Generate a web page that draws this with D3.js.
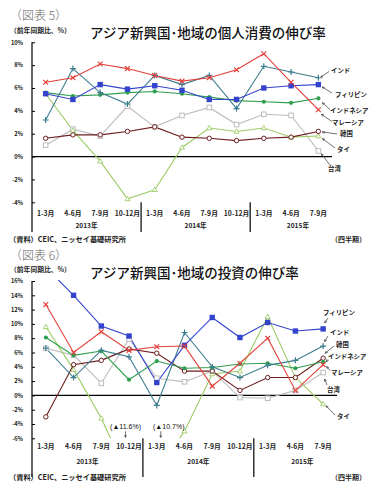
<!DOCTYPE html>
<html><head><meta charset="utf-8">
<script src="https://cdn.jsdelivr.net/npm/d3@7"></script>
<style>
html,body{margin:0;padding:0;background:#fff;}
svg{display:block;font-family:"Noto Sans CJK JP","Noto Sans",sans-serif;}
</style></head><body>
<svg id="c" width="381" height="498"></svg>
<script>
// ---------- data ----------
const categories = ["1-3月","4-6月","7-9月","10-12月","1-3月","4-6月","7-9月","10-12月","1-3月","4-6月","7-9月"];
const yearLabels = ["2013年","2014年","2015年"];
const yearSpans = [4,4,3];
const seriesNames = ["インド","フィリピン","インドネシア","マレーシア","韓国","タイ","台湾"];

// chart 5 : private consumption growth (% y/y)
const consTicks = [10,8,6,4,2,0,-2,-4];
const consIndia       = [3.2,7.7,5.6,4.6,7.1,6.3,7.1,4.2,7.9,7.4,6.9];
const consPhilippines = [5.5,5.0,6.3,5.9,6.2,5.8,5.0,5.0,6.0,6.2,6.3];
const consIndonesia   = [5.6,5.3,5.4,5.6,5.7,5.5,5.2,4.9,4.8,4.7,5.1];
const consMalaysia    = [6.5,6.9,8.1,7.7,7.1,6.6,6.9,7.6,9.0,6.5,4.1];
const consKorea       = [1.6,1.9,1.9,2.2,2.6,1.7,1.6,1.4,1.6,1.7,2.2];
const consThailand    = [5.5,2.3,-0.4,-3.7,-2.9,0.8,2.5,2.2,2.5,1.7,1.8];
const consTaiwan      = [1.0,2.4,1.8,4.4,2.6,3.6,4.3,2.8,3.7,3.6,0.5];

// chart 6 : investment growth (% y/y)
const invTicks = [16,14,12,10,8,6,4,2,0,-2,-4,-6];
const invIndia       = [6.6,2.5,6.3,5.4,-1.4,8.8,4.0,2.5,4.2,4.9,6.9];
const invPhilippines = [17.9,14.0,9.7,8.3,1.8,7.0,10.9,8.1,10.2,9.0,9.3];
const invIndonesia   = [8.1,5.6,6.2,2.2,4.8,3.8,3.9,4.4,4.5,3.8,4.7];
const invMalaysia    = [12.7,6.0,8.9,6.3,6.8,6.9,1.3,4.5,8.0,0.7,4.3];
const invKorea       = [-3.0,4.3,4.9,6.5,5.9,3.4,3.4,0.7,2.5,2.5,5.2];
const invThailand    = [9.6,3.6,-3.2,-11.6,-10.7,-5.0,3.0,3.4,11.0,2.5,-1.2];
const invTaiwan      = [6.6,5.6,1.7,7.9,2.4,1.9,3.4,-0.3,-0.4,0.7,3.2];
const invNotes = [{i:3, text:"(▲11.6%)"},{i:4, text:"(▲10.7%)"}];

// ---------- styles ----------
const styles = {
  "インド":      {color:"#3b7d8e", shape:"plus"},
  "フィリピン":  {color:"#3443cc", shape:"square"},
  "インドネシア":{color:"#2f9e4e", shape:"dot"},
  "マレーシア":  {color:"#e3413b", shape:"cross"},
  "韓国":        {color:"#6e1c1c", shape:"circle"},
  "タイ":        {color:"#9dcc66", shape:"triangle"},
  "台湾":        {color:"#bdbdbd", shape:"osquare"}
};
const drawOrder = ["台湾","タイ","韓国","インドネシア","インド","フィリピン","マレーシア"];

const svg = d3.select("#c");
const defs = svg.append("defs");
defs.append("marker").attr("id","arr").attr("viewBox","0 0 6 6").attr("refX",5.5).attr("refY",3)
  .attr("markerWidth",4).attr("markerHeight",4).attr("orient","auto")
  .append("path").attr("d","M0,0.5L6,3L0,5.5").attr("fill","none").attr("stroke","#333").attr("stroke-width",1.2);

function drawMarker(g, shape, color, px, py){
  const s = 2.4;
  if(shape==="square") g.append("rect").attr("x",px-2.7).attr("y",py-2.7).attr("width",5.4).attr("height",5.4).attr("fill",color);
  else if(shape==="osquare") g.append("rect").attr("x",px-2.3).attr("y",py-2.3).attr("width",4.6).attr("height",4.6).attr("fill","#fff").attr("stroke",color).attr("stroke-width",1);
  else if(shape==="dot") g.append("circle").attr("cx",px).attr("cy",py).attr("r",2.1).attr("fill",color);
  else if(shape==="circle") g.append("circle").attr("cx",px).attr("cy",py).attr("r",2.2).attr("fill","#fff").attr("stroke",color).attr("stroke-width",1);
  else if(shape==="triangle") g.append("path").attr("d",`M${px},${py-2.6}L${px+2.5},${py+1.8}L${px-2.5},${py+1.8}Z`).attr("fill","#fff").attr("stroke",color).attr("stroke-width",0.9);
  else if(shape==="plus") g.append("path").attr("d",`M${px-3},${py}H${px+3}M${px},${py-3}V${py+3}`).attr("stroke",color).attr("stroke-width",1.2);
  else if(shape==="cross") g.append("path").attr("d",`M${px-s},${py-s}L${px+s},${py+s}M${px-s},${py+s}L${px+s},${py-s}`).attr("stroke",color).attr("stroke-width",1.2);
}

function drawChart(o){
  const g = svg.append("g");
  const x = d3.scaleBand().domain(d3.range(categories.length)).range([o.x0,o.x1]);
  const y = d3.scaleLinear().domain([o.ticks[o.ticks.length-1], o.ticks[0]]).range([o.yBottom,o.yTop]);
  const cx = i => x(i) + x.bandwidth()/2;

  // headers
  g.append("text").attr("x",10).attr("y",o.figY).attr("font-size",12).attr("fill","#666")
    .attr("font-weight",300).text(o.fig);
  g.append("text").attr("x",10).attr("y",o.unitY).attr("font-size",6.8).attr("fill","#222")
    .attr("font-weight","bold").text("（前年同期比、%）");
  g.append("text").attr("x",90).attr("y",o.titleY).attr("font-size",13.5).attr("fill","#111")
    .attr("font-weight",500).text(o.title);

  // y axis
  const ax = d3.axisLeft(y).tickValues(o.ticks).tickSize(-3).tickPadding(9).tickFormat(d => d + "%");
  const axg = g.append("g").attr("transform",`translate(${o.x0},0)`).call(ax);
  axg.select(".domain").remove();
  axg.selectAll(".tick line").attr("stroke","#000");
  axg.selectAll(".tick text").attr("font-size",5.6).attr("font-weight","bold").attr("fill","#222")
    .attr("font-family","'Noto Sans CJK JP',sans-serif");
  g.append("line").attr("x1",o.x0).attr("x2",o.x0).attr("y1",o.yTop).attr("y2",o.axisBottom).attr("stroke","#000").attr("stroke-width",1.2);
  g.append("line").attr("x1",o.x0).attr("x2",o.x1).attr("y1",y(0)).attr("y2",y(0)).attr("stroke","#000").attr("stroke-width",1.2);

  // category / year labels and dividers
  g.selectAll(".cat").data(categories).join("text")
    .attr("x",(d,i)=>cx(i)).attr("y",o.catY).attr("text-anchor","middle")
    .attr("font-size",6.8).attr("font-weight","bold").attr("fill","#222").text(d=>d);
  let start = 0;
  const yearLabelWidths = [4,4,3.5];
  yearLabels.forEach((lab,k)=>{
    const xs = x(start);
    g.append("text").attr("x", xs + x.step()*yearLabelWidths[k]/2).attr("y",o.yearY).attr("text-anchor","middle")
      .attr("font-size",6.6).attr("font-weight","bold").attr("fill","#222").text(lab);
    if(k>0) g.append("line").attr("x1",xs).attr("x2",xs).attr("y1",o.yBottom).attr("y2",o.axisBottom).attr("stroke","#000").attr("stroke-width",1.2);
    start += yearSpans[k];
  });
  g.append("text").attr("x",9).attr("y",o.srcY).attr("font-size",7.2).attr("font-weight","bold").attr("fill","#222").text("（資料）CEIC、ニッセイ基礎研究所");
  g.append("text").attr("x",366).attr("y",o.srcY).attr("text-anchor","end").attr("font-size",7).attr("font-weight","bold").attr("fill","#222").text("（四半期）");

  // clip
  const cid = "clip" + o.id;
  defs.append("clipPath").attr("id",cid).append("rect")
    .attr("x",o.x0).attr("y",o.yTop-1).attr("width",o.x1-o.x0+10).attr("height",o.yBottom-o.yTop+o.clipPad);
  const pg = g.append("g").attr("clip-path",`url(#${cid})`);
  const line = d3.line().x((d,i)=>cx(i)).y(d=>y(d));
  drawOrder.forEach(name=>{
    const st = styles[name], vals = o.series[name];
    pg.append("path").attr("d",line(vals)).attr("fill","none").attr("stroke",st.color).attr("stroke-width",1.1);
  });
  drawOrder.forEach(name=>{
    const st = styles[name], vals = o.series[name];
    vals.forEach((v,i)=>drawMarker(pg, st.shape, st.color, cx(i), y(v)));
  });

  // series labels with leaders
  const last = categories.length-1;
  o.labels.forEach(l=>{
    const v = o.series[l.name][last];
    const px = cx(last), py = y(v);
    g.append("line").attr("x1",l.lx).attr("y1",l.ly).attr("x2",px+l.tx).attr("y2",py+l.ty)
      .attr("stroke","#333").attr("stroke-width",0.7).attr("marker-end","url(#arr)");
    g.append("text").attr("x",l.x).attr("y",l.y).attr("dy","0.35em").attr("font-size",6.4)
      .attr("font-weight","bold").attr("fill","#222").text(l.name);
  });

  // notes for off-scale values
  (o.notes||[]).forEach(n=>{
    const px = cx(n.i) + n.dx;
    g.append("text").attr("x",px + n.tdx).attr("y",o.yBottom-9).attr("text-anchor","middle")
      .attr("font-size",7).attr("fill","#111").attr("font-family","'Liberation Sans',Arial,sans-serif").text(n.text);
    g.append("line").attr("x1",px).attr("x2",px).attr("y1",o.yBottom-7).attr("y2",o.yBottom-1)
      .attr("stroke","#333").attr("stroke-width",0.7).attr("marker-end","url(#arr)");
  });
}

drawChart({
  id:5, fig:"（図表 5）", title:"アジア新興国･地域の個人消費の伸び率",
  figY:20, unitY:32.5, titleY:38,
  x0:32, x1:332, yTop:42.3, yBottom:202.3, axisBottom:232, clipPad:5,
  catY:215.5, yearY:228, srcY:241.5,
  ticks:consTicks,
  series:{"インド":consIndia,"フィリピン":consPhilippines,"インドネシア":consIndonesia,"マレーシア":consMalaysia,
          "韓国":consKorea,"タイ":consThailand,"台湾":consTaiwan},
  labels:[
    {name:"インド",      x:331, y:71,  lx:329, ly:71.5, tx:2.5, ty:-0.5},
    {name:"フィリピン",  x:335, y:95,  lx:332, ly:93,   tx:4,   ty:2.5},
    {name:"インドネシア",x:330, y:111, lx:330, ly:109.5,tx:4,   ty:4.5},
    {name:"マレーシア",  x:332, y:123, lx:332, ly:121.5,tx:3,   ty:4.5},
    {name:"韓国",        x:340, y:134, lx:337, ly:134,  tx:4,   ty:0.5},
    {name:"タイ",        x:337, y:150, lx:335, ly:148,  tx:4,   ty:2.5},
    {name:"台湾",        x:328, y:169, lx:330, ly:165,  tx:3,   ty:3}
  ]
});

drawChart({
  id:6, fig:"（図表 6）", title:"アジア新興国･地域の投資の伸び率",
  figY:260, unitY:272, titleY:278,
  x0:32, x1:337, yTop:281, yBottom:438.3, axisBottom:477, clipPad:1,
  catY:448.5, yearY:464, srcY:479.5,
  ticks:invTicks,
  series:{"インド":invIndia,"フィリピン":invPhilippines,"インドネシア":invIndonesia,"マレーシア":invMalaysia,
          "韓国":invKorea,"タイ":invThailand,"台湾":invTaiwan},
  labels:[
    {name:"フィリピン",  x:323, y:313, lx:328, ly:318,  tx:1.5, ty:-6},
    {name:"インド",      x:330, y:333, lx:328, ly:336,  tx:1.5, ty:-4.5},
    {name:"韓国",        x:336, y:344.5, lx:334, ly:346, tx:2, ty:-5},
    {name:"インドネシア",x:328, y:357, lx:328, ly:359.5,tx:3,   ty:0},
    {name:"マレーシア",  x:331, y:373, lx:330, ly:370.5,tx:3.5, ty:2},
    {name:"台湾",        x:327, y:390, lx:327, ly:385,  tx:1.5, ty:6.5},
    {name:"タイ",        x:337, y:417, lx:335, ly:415,  tx:3,   ty:2}
  ],
  notes: invNotes.map((n,k)=>({i:n.i, text:n.text, dx: k===0 ? -3.5 : 4, tdx: k===0 ? 0 : 8}))
});
</script>
</body></html>
